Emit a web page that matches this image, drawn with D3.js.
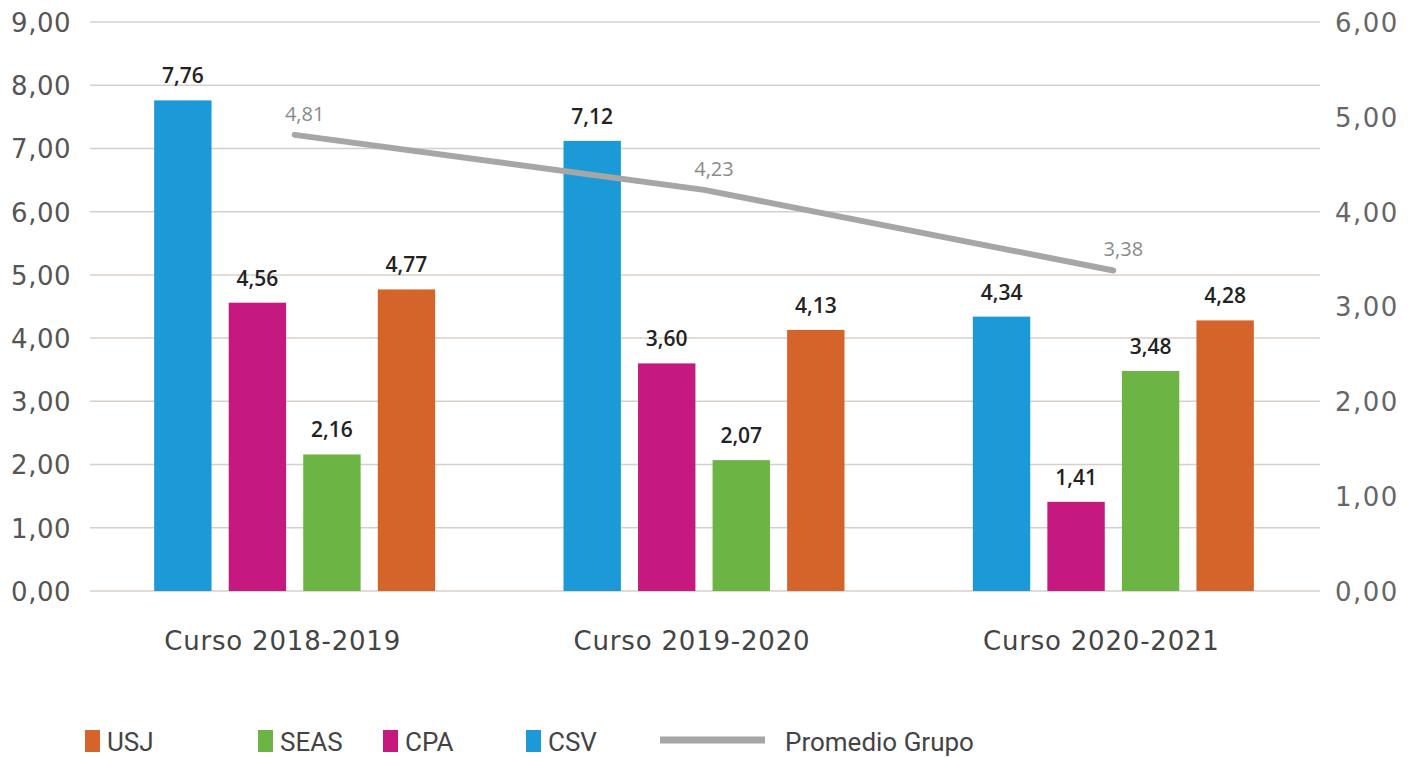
<!DOCTYPE html>
<html><head><meta charset="utf-8">
<script src="https://cdn.jsdelivr.net/npm/d3@7"></script>
<style>
body{margin:0;background:#fff;}
svg{display:block;}
</style></head><body>
<svg id="c" width="1424" height="757"></svg>
<script>
const categories = ["Curso 2018-2019", "Curso 2019-2020", "Curso 2020-2021"];
const seriesNames = ["CSV", "CPA", "SEAS", "USJ"];
const CSV = [7.76, 7.12, 4.34];
const CPA = [4.56, 3.60, 1.41];
const SEAS = [2.16, 2.07, 3.48];
const USJ = [4.77, 4.13, 4.28];
const promedio = [4.81, 4.23, 3.38];
const leftTicks = [0,1,2,3,4,5,6,7,8,9];
const rightTicks = [0,1,2,3,4,5,6];
const legendOrder = ["USJ", "SEAS", "CPA", "CSV"];

const colors = {CSV:"#1b9ad7", CPA:"#c5197f", SEAS:"#6cb545", USJ:"#d5642b"};
const seriesVals = {CSV, CPA, SEAS, USJ};
const fmt = v => d3.format(".2f")(v).replace(".", ",");

const svg = d3.select("#c");
const x0 = 90, x1 = 1318, yTop = 22, yBot = 591;
const x = d3.scaleBand().domain(categories).range([x0, x1]).paddingInner(0).paddingOuter(0);
const yL = d3.scaleLinear().domain([0, 9]).range([yBot, yTop]);
const yR = d3.scaleLinear().domain([0, 6]).range([yBot, yTop]);
const groupW = 281;
const xs = d3.scaleBand().domain(seriesNames).range([0, groupW]).paddingInner(0.23).paddingOuter(0);
const axisFont = "DejaVu Sans, sans-serif";

// gridlines
svg.append("g").selectAll("line").data(leftTicks).join("line")
  .attr("x1", x0).attr("x2", 1320)
  .attr("y1", d => yL(d)).attr("y2", d => yL(d))
  .attr("stroke", "#d8cfc8").attr("stroke-width", 1.5);

// left axis
const gl = svg.append("g").attr("transform", `translate(${x0},0)`)
  .call(d3.axisLeft(yL).tickValues(leftTicks).tickSize(0).tickPadding(19).tickFormat(fmt));
gl.select(".domain").remove();
gl.selectAll("text").attr("font-family", axisFont).attr("font-size", 26).attr("letter-spacing", 0.5).attr("fill", "#555").attr("dy", "0.36em");

// right axis
const gr = svg.append("g").attr("transform", `translate(1320,0)`)
  .call(d3.axisRight(yR).tickValues(rightTicks).tickSize(0).tickPadding(15).tickFormat(fmt));
gr.select(".domain").remove();
gr.selectAll("text").attr("font-family", axisFont).attr("font-size", 26).attr("letter-spacing", 1.5).attr("fill", "#666").attr("dy", "0.36em");

// bars
categories.forEach((cat, i) => {
  const gx = x(cat) + (x.bandwidth() - groupW) / 2;
  const g = svg.append("g").attr("transform", `translate(${gx},0)`);
  seriesNames.forEach(s => {
    const v = seriesVals[s][i];
    g.append("rect").attr("x", xs(s)).attr("width", xs.bandwidth())
      .attr("y", yL(v)).attr("height", yL(0) - yL(v)).attr("fill", colors[s]);
    g.append("text").attr("x", xs(s) + xs.bandwidth() / 2).attr("y", yL(v) - 17)
      .attr("text-anchor", "middle").attr("font-family", "Open Sans, sans-serif")
      .attr("font-size", 21).attr("font-weight", 600).attr("fill", "#222").text(fmt(v));
  });
});

// line
const line = d3.line().x((d, i) => x(categories[i]) + x.bandwidth() / 2).y(d => yR(d));
svg.append("path").datum(promedio).attr("d", line).attr("fill", "none")
  .attr("stroke", "#a6a6a6").attr("stroke-width", 6).attr("stroke-linecap", "round");
svg.append("g").selectAll("text").data(promedio).join("text")
  .attr("x", (d, i) => x(categories[i]) + x.bandwidth() / 2 + 10)
  .attr("y", d => yR(d) - 14)
  .attr("text-anchor", "middle").attr("font-family", "Open Sans, sans-serif")
  .attr("font-size", 20).attr("fill", "#8a8a8a").text(fmt);

// category labels
svg.append("g").selectAll("text").data(categories).join("text")
  .attr("x", d => x(d) + x.bandwidth() / 2 - 12).attr("y", 650)
  .attr("text-anchor", "middle").attr("font-family", axisFont)
  .attr("font-size", 26).attr("letter-spacing", 0.8).attr("fill", "#444").text(d => d);

// legend
const lg = svg.append("g");
const legX = [85, 258, 383, 526];
legendOrder.forEach((s, i) => {
  lg.append("rect").attr("x", legX[i]).attr("y", 730).attr("width", 15).attr("height", 22).attr("fill", colors[s]);
  lg.append("text").attr("x", legX[i] + 22).attr("y", 751).attr("font-family", "Roboto, sans-serif")
    .attr("font-size", 26).attr("fill", "#444").text(s);
});
lg.append("line").attr("x1", 660).attr("x2", 765).attr("y1", 740).attr("y2", 740)
  .attr("stroke", "#a6a6a6").attr("stroke-width", 7);
lg.append("text").attr("x", 785).attr("y", 751).attr("font-family", "Roboto, sans-serif")
  .attr("font-size", 26).attr("fill", "#444").text("Promedio Grupo");
</script>
</body></html>
